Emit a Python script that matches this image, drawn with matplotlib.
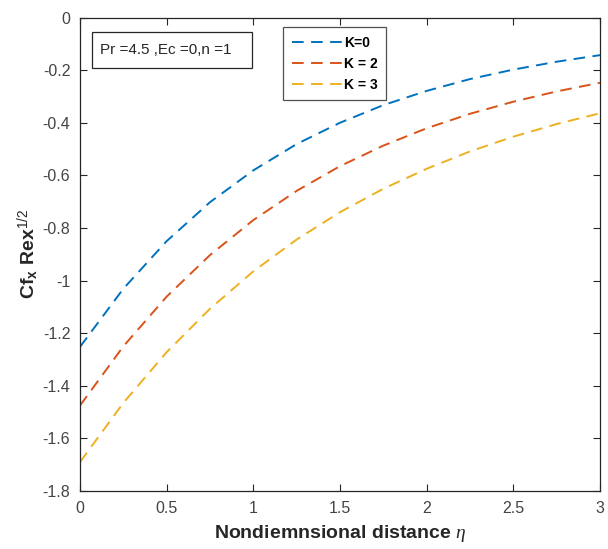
import numpy as np
import matplotlib
matplotlib.use('Agg')
import matplotlib.pyplot as plt
from matplotlib.patches import Rectangle

plt.rcParams['font.family'] = ['Liberation Sans', 'DejaVu Sans']
plt.rcParams['axes.unicode_minus'] = False
plt.rcParams['mathtext.fontset'] = 'custom'
plt.rcParams['mathtext.rm'] = 'Liberation Sans'
plt.rcParams['mathtext.bf'] = 'Liberation Sans:bold'
plt.rcParams['mathtext.it'] = 'Liberation Serif:italic'

# valori
eta = [0, 0.25, 0.5, 0.75, 1.0, 1.25, 1.5, 1.75, 2.0, 2.25, 2.5, 2.75, 3.0]
cf_k0 = [-1.252, -1.031, -0.850, -0.702, -0.581, -0.481, -0.400, -0.333, -0.279, -0.234, -0.198, -0.168, -0.143]
cf_k2 = [-1.475, -1.250, -1.061, -0.903, -0.770, -0.659, -0.565, -0.487, -0.421, -0.366, -0.320, -0.281, -0.248]
cf_k3 = [-1.690, -1.465, -1.272, -1.107, -0.965, -0.844, -0.740, -0.651, -0.575, -0.509, -0.453, -0.405, -0.364]
labels = ['K=0', 'K = 2', 'K = 3']
colori = ['#0072BD', '#D95319', '#EDB120']

xticks = [0, 0.5, 1, 1.5, 2, 2.5, 3]
xticklabels = ['0', '0.5', '1', '1.5', '2', '2.5', '3']
yticks = [0, -0.2, -0.4, -0.6, -0.8, -1.0, -1.2, -1.4, -1.6, -1.8]
yticklabels = ['0', '-0.2', '-0.4', '-0.6', '-0.8', '-1', '-1.2', '-1.4', '-1.6', '-1.8']

fig = plt.figure(figsize=(6.08, 5.49), dpi=100)
ax = fig.add_axes([0.1316, 0.1056, 0.8552, 0.8625])

for y, lab, c in zip([cf_k0, cf_k2, cf_k3], labels, colori):
    ax.plot(eta, y, linestyle=(0, (6, 3.8)), color=c, linewidth=1.4, label=lab)

ax.set_xlim(0, 3)
ax.set_ylim(-1.8, 0)
ax.set_xticks(xticks)
ax.set_xticklabels(xticklabels)
ax.set_yticks(yticks)
ax.set_yticklabels(yticklabels)
ax.tick_params(direction='in', top=True, right=True, length=5, width=0.8,
               colors='#262626', labelsize=11.5, labelcolor='#444444', pad=7)
for s in ax.spines.values():
    s.set_color('#262626')
    s.set_linewidth(0.9)

ax.set_xlabel(r'Nondiemnsional distance $\eta$', fontsize=14, fontweight='bold',
              color='#262626', labelpad=5)
ax.set_ylabel(r'Cf$_{\mathbf{x}}$ Rex$^{1/2}$', fontsize=14, fontweight='bold',
              color='#262626', labelpad=1)

leg = ax.legend(loc='upper left', bbox_to_anchor=(0.391, 0.979), frameon=True,
                fancybox=False, edgecolor='#262626', handlelength=3.6,
                handletextpad=0.15, borderpad=0.6, borderaxespad=0,
                labelspacing=0.5, prop={'weight': 'bold', 'size': 10})
leg.get_frame().set_linewidth(0.9)

# box del testo dei parametri
ax.add_patch(Rectangle((0.023, 0.893), 0.308, 0.076, transform=ax.transAxes,
                       facecolor='white', edgecolor='#262626', linewidth=0.9, zorder=5))
ax.text(0.038, 0.931, 'Pr =4.5 ,Ec =0,n =1', transform=ax.transAxes, fontsize=11,
        va='center', ha='left', color='#262626', zorder=6)

fig.savefig('out.png', dpi=100)
